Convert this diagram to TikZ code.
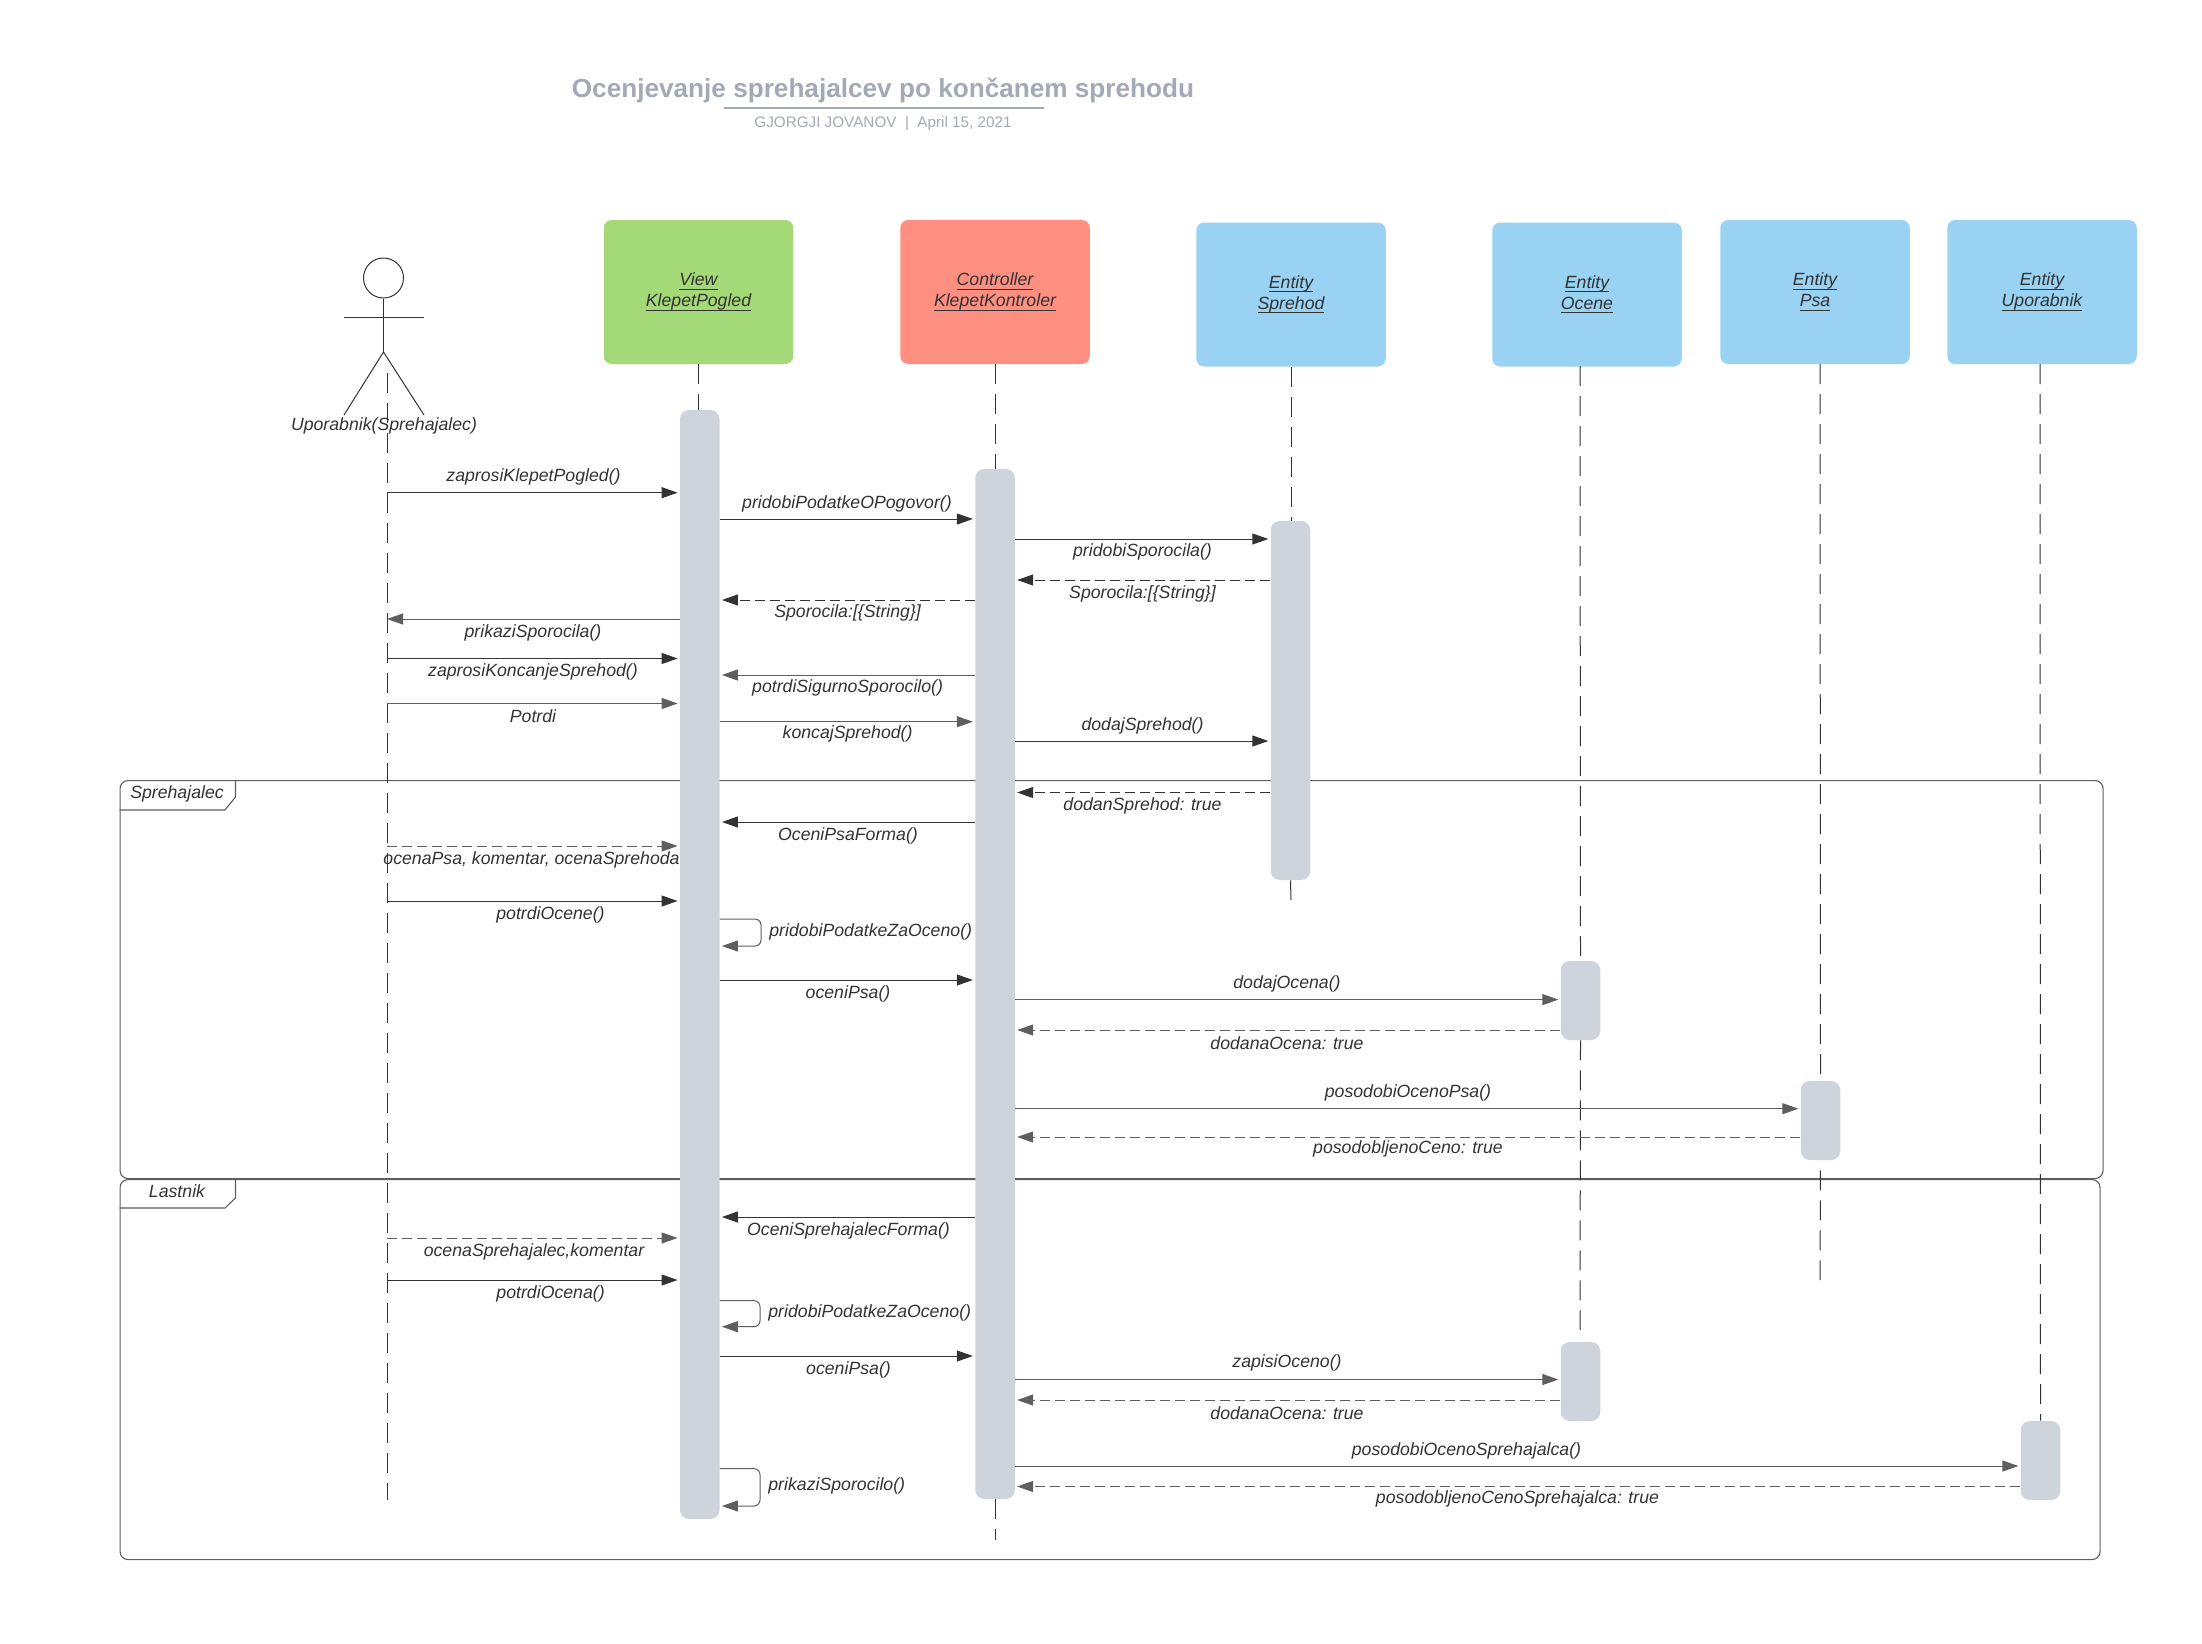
\documentclass[tikz,border=0pt]{standalone}
\usepackage{fontspec}
\setmainfont{Liberation Sans}
\usetikzlibrary{arrows.meta}
\newcommand\undl[1]{\setbox0=\hbox{#1}\leavevmode\rlap{\rule[-2pt]{\wd0}{0.55pt}}\box0 }
\definecolor{ink}{HTML}{333333}
\definecolor{line}{HTML}{5E5E5E}
\definecolor{barc}{HTML}{CED4DB}
\definecolor{titlec}{HTML}{A3A9B5}
\definecolor{gr}{HTML}{A3D977}
\definecolor{rd}{HTML}{FF8F80}
\definecolor{bl}{HTML}{99D2F2}
\tikzset{
  x=0.5pt,y=-0.5pt,
  box/.style={rounded corners=4pt,minimum width=94.75pt,minimum height=72pt,inner sep=0pt,draw=none,text=ink,align=center,font=\fontsize{8.85}{10.5}\selectfont\itshape},
  actbar/.style={fill=barc,draw=none,rounded corners=4.5pt,minimum width=19.75pt,inner sep=0pt},
  lbl/.style={text=ink,inner sep=0pt,xshift=0.5pt,yshift=-0.7pt,font=\fontsize{8.85}{10.5}\selectfont\itshape},
  lifeline/.style={draw=ink,line width=0.5pt,dash pattern=on 10pt off 5pt},
  frameb/.style={draw=line,line width=0.55pt,rounded corners=4pt,inner sep=0pt,anchor=north west},
  framet/.style={draw=line,line width=0.55pt},
  msg/.style={draw=ink,line width=0.5pt,-{Triangle[length=8pt,width=5.5pt,fill=ink]},shorten >=1pt},
  msgg/.style={draw=line,line width=0.5pt,-{Triangle[length=8pt,width=5.5pt,fill=line]},shorten >=1pt},
  ret/.style={msg,dash pattern=on 5pt off 2.5pt},
  retg/.style={msgg,dash pattern=on 5pt off 2.5pt},
  selfm/.style={msgg,rounded corners=3pt},
  stick/.style={draw=ink,line width=0.5pt}
}
\begin{document}
\begin{tikzpicture}
\useasboundingbox (0,0) rectangle (2202,1644);
% title
\node[text=titlec,inner sep=0pt,font=\fontsize{13.08}{15}\selectfont\bfseries] (title) at (883,90.5) {Ocenjevanje sprehajalcev po končanem sprehodu};
\node[text=titlec,inner sep=0pt,font=\fontsize{7.63}{9}\selectfont] (sub) at (883,124) {GJORGJI JOVANOV\ \ |\ \ April 15, 2021};
\coordinate (ulL) at (724,107.7);
\coordinate (ulR) at (1044,107.7);
\draw[titlec,line width=1pt] (ulL) -- (ulR);
% frames
\node[frameb,minimum width=991.5pt,minimum height=199pt] (f1) at (119.5,780) {};
\node[frameb,minimum width=990pt,minimum height=190pt] (f2) at (119.5,1179) {};
\draw[framet] (f1.north west -| 235.5,0) -- ++(0,17) -- ++(-10.5,13) -- (f1.north west |- 0,810);
\draw[framet] (f2.north west -| 235.5,0) -- ++(0,19) -- ++(-10.5,10) -- (f2.north west |- 0,1208);
\node[lbl] (f1t) at (176,793) {Sprehajalec};
\node[lbl] (f2t) at (176,1190) {Lastnik};
% lifeline heads
\node[box,fill=gr] (vbox) at (698.5,292) {\undl{View}\\\undl{KlepetPogled}};
\node[box,fill=rd] (cbox) at (995,292) {\undl{Controller}\\\undl{KlepetKontroler}};
\node[box,fill=bl] (sbox) at (1291,294.5) {\undl{Entity}\\\undl{Sprehod}};
\node[box,fill=bl] (obox) at (1587,294.5) {\undl{Entity}\\\undl{Ocene}};
\node[box,fill=bl] (pbox) at (1815,292) {\undl{Entity}\\\undl{Psa}};
\node[box,fill=bl] (ubox) at (2042,292) {\undl{Entity}\\\undl{Uporabnik}};
% actor
\node[circle,draw=ink,line width=0.5pt,minimum size=20pt,inner sep=0pt] (head) at (383.5,278) {};
\coordinate (hip) at (383.5,352);
\coordinate (armL) at (344,317);
\coordinate (armR) at (424,317);
\coordinate (legL) at (344,415);
\coordinate (legR) at (424,415);
\draw[stick] (head.south) -- (hip);
\draw[stick] (armL) -- (armR);
\draw[stick] (legL) -- (hip) -- (legR);
\node[lbl] (atxt) at (383,425) {Uporabnik(Sprehajalec)};
% lifeline end points
\coordinate (a0) at (387,373);
\coordinate (a1) at (387,1500);
\coordinate (ce) at (995,1540);
\coordinate (se) at (1291,900);
\coordinate (pe) at (1820,1280);
\coordinate (oe) at (1580,1330);
\coordinate (ox) at (1580,366);
\coordinate (px) at (1820,364);
\coordinate (ux) at (2040,364);
% activation bars
\node[actbar,minimum height=554.5pt] (vb) at (699.75,964.5) {};
\node[actbar,minimum height=515pt] (cb) at (995,984) {};
\node[actbar,minimum height=179.5pt] (sb) at (1290.5,700.5) {};
\node[actbar,minimum height=39.5pt] (ob1) at (1580.5,1000.5) {};
\node[actbar,minimum height=39.5pt] (ob2) at (1580.5,1381.5) {};
\node[actbar,minimum height=39.5pt] (pb) at (1820.5,1120.5) {};
\node[actbar,minimum height=39.5pt] (ub) at (2040.5,1460.5) {};
% lifelines
\draw[lifeline] (a0) -- (a1);
\draw[lifeline] (vbox.south) -- (vbox.south |- vb.north);
\draw[lifeline] (cbox.south) -- (cbox.south |- cb.north);
\draw[lifeline] (cb.south) -- (ce);
\draw[lifeline] (sbox.south) -- (sbox.south |- sb.north);
\draw[lifeline] (sb.south) -- (se);
\draw[lifeline] (ox) -- (ob1.north);
\draw[lifeline] (ob1.south) -- (oe);
\draw[lifeline] (px) -- (pb.north);
\draw[lifeline,dash phase=10pt] (pb.south) -- (pe);
\draw[lifeline] (ux) -- (ub.north);
% messages
\draw[msg] (a0 |- 0,492.7) -- (vb.west |- 0,492.7);
\node[lbl] (t1) at (532.5,476) {zaprosiKlepetPogled()};
\draw[msg] (vb.east |- 0,519) -- (cb.west |- 0,519);
\node[lbl] (t2) at (846,503) {pridobiPodatkeOPogovor()};
\draw[msg] (cb.east |- 0,539) -- (sb.west |- 0,539);
\node[lbl] (t3) at (1141.5,550.5) {pridobiSporocila()};
\draw[ret] (sb.west |- 0,580) -- (cb.east |- 0,580);
\node[lbl] (t4) at (1141.5,592.5) {Sporocila:[\{String\}]};
\draw[ret] (cb.west |- 0,600) -- (vb.east |- 0,600);
\node[lbl] (t5) at (846.6,612) {Sporocila:[\{String\}]};
\draw[msgg,shorten >=0pt] (vb.west |- 0,619) -- (a0 |- 0,619);
\node[lbl] (t6) at (532,632) {prikaziSporocila()};
\draw[msg] (a0 |- 0,658.5) -- (vb.west |- 0,658.5);
\node[lbl] (t7) at (532,671) {zaprosiKoncanjeSprehod()};
\draw[msgg] (cb.west |- 0,675) -- (vb.east |- 0,675);
\node[lbl] (t8) at (846.6,686.6) {potrdiSigurnoSporocilo()};
\draw[msgg] (a0 |- 0,703.5) -- (vb.west |- 0,703.5);
\node[lbl] (t9) at (532,715) {Potrdi};
\draw[msgg] (vb.east |- 0,721.7) -- (cb.west |- 0,721.7);
\node[lbl] (t10) at (846.6,733) {koncajSprehod()};
\draw[msg] (cb.east |- 0,741) -- (sb.west |- 0,741);
\node[lbl] (t11) at (1141.5,724.5) {dodajSprehod()};
\draw[ret] (sb.west |- 0,792.5) -- (cb.east |- 0,792.5);
\node[lbl] (t12) at (1141.5,804.5) {dodanSprehod: true};
\draw[msg] (cb.west |- 0,822) -- (vb.east |- 0,822);
\node[lbl] (t13) at (847,835) {OceniPsaForma()};
\draw[retg] (a0 |- 0,846) -- (vb.west |- 0,846);
\node[lbl] (t14) at (530.5,859) {ocenaPsa, komentar, ocenaSprehoda};
\draw[msg] (a0 |- 0,901) -- (vb.west |- 0,901);
\node[lbl] (t15) at (549.5,914) {potrdiOcene()};
\draw[selfm] (vb.east |- 0,919) -- (761,919) -- (761,946) -- (vb.east |- 0,946);
\node[lbl,anchor=west] (t16) at (768,931) {pridobiPodatkeZaOceno()};
\draw[msg] (vb.east |- 0,980) -- (cb.west |- 0,980);
\node[lbl] (t17) at (847,993) {oceniPsa()};
\draw[msgg] (cb.east |- 0,999.6) -- (ob1.west |- 0,999.6);
\node[lbl] (t18) at (1286,982.6) {dodajOcena()};
\draw[retg] (ob1.west |- 0,1030) -- (cb.east |- 0,1030);
\node[lbl] (t19) at (1286,1041.6) {dodanaOcena: true};
\draw[msgg] (cb.east |- 0,1108.7) -- (pb.west |- 0,1108.7);
\node[lbl] (t20) at (1407,1091.7) {posodobiOcenoPsa()};
\draw[retg] (pb.west |- 0,1137) -- (cb.east |- 0,1137);
\node[lbl] (t21) at (1407,1148) {posodobljenoCeno: true};
\draw[msg] (cb.west |- 0,1217) -- (vb.east |- 0,1217);
\node[lbl] (t22) at (847.5,1229.7) {OceniSprehajalecForma()};
\draw[retg] (a0 |- 0,1238) -- (vb.west |- 0,1238);
\node[lbl] (t23) at (533,1250.7) {ocenaSprehajalec,komentar};
\draw[msg] (a0 |- 0,1280) -- (vb.west |- 0,1280);
\node[lbl] (t24) at (549.6,1292.7) {potrdiOcena()};
\draw[selfm] (vb.east |- 0,1300.7) -- (760,1300.7) -- (760,1326.7) -- (vb.east |- 0,1326.7);
\node[lbl,anchor=west] (t25) at (767,1311.7) {pridobiPodatkeZaOceno()};
\draw[msg] (vb.east |- 0,1356) -- (cb.west |- 0,1356);
\node[lbl] (t26) at (847.5,1368.7) {oceniPsa()};
\draw[msgg] (cb.east |- 0,1379.5) -- (ob2.west |- 0,1379.5);
\node[lbl] (t27) at (1286,1362) {zapisiOceno()};
\draw[retg] (ob2.west |- 0,1400) -- (cb.east |- 0,1400);
\node[lbl] (t28) at (1286,1411.5) {dodanaOcena: true};
\draw[msgg] (cb.east |- 0,1466) -- (ub.west |- 0,1466);
\node[lbl] (t29) at (1465.5,1449.5) {posodobiOcenoSprehajalca()};
\draw[retg] (ub.west |- 0,1486.5) -- (cb.east |- 0,1486.5);
\node[lbl] (t30) at (1516.5,1497.5) {posodobljenoCenoSprehajalca: true};
\draw[selfm] (vb.east |- 0,1468.7) -- (760,1468.7) -- (760,1506) -- (vb.east |- 0,1506);
\node[lbl,anchor=west] (t31) at (767,1484.7) {prikaziSporocilo()};
\end{tikzpicture}
\end{document}
